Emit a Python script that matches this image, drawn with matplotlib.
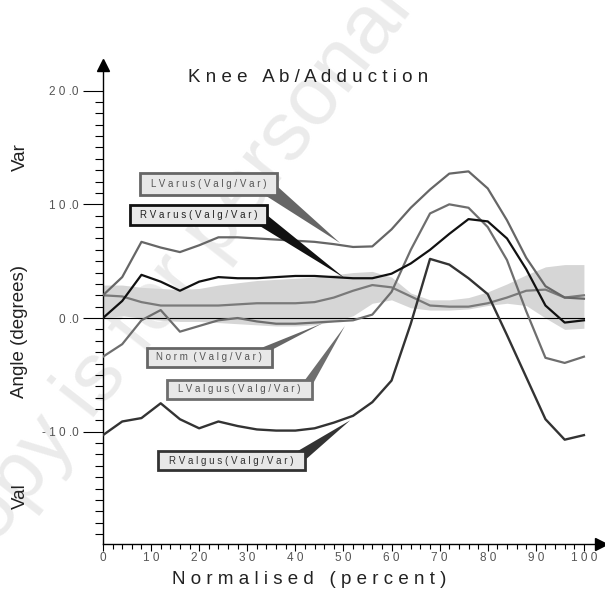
import numpy as np
import matplotlib.pyplot as plt
from matplotlib.patches import Rectangle, Polygon

plt.rcParams['font.family'] = ['Liberation Sans', 'DejaVu Sans']

# gait cycle, percent
pct = np.arange(0, 101, 4)

l_varus = [2.0, 3.6, 6.7, 6.2, 5.8, 6.4, 7.1, 7.1, 7.0, 6.9, 6.8, 6.7, 6.5,
           6.25, 6.3, 7.8, 9.7, 11.3, 12.7, 12.9, 11.4, 8.6, 5.3, 2.8, 1.8, 1.7]
r_varus = [0.0, 1.5, 3.8, 3.2, 2.4, 3.2, 3.6, 3.5, 3.5, 3.6, 3.7, 3.7, 3.6,
           3.5, 3.5, 3.9, 4.8, 6.0, 7.4, 8.7, 8.5, 7.0, 4.3, 1.1, -0.4, -0.2]
l_valgus = [-3.4, -2.3, -0.2, 0.7, -1.2, -0.7, -0.2, 0.0, -0.3, -0.5, -0.5, -0.4, -0.3,
            -0.2, 0.3, 2.3, 6.0, 9.2, 10.0, 9.7, 8.0, 5.1, 0.6, -3.5, -3.95, -3.4]
r_valgus = [-10.3, -9.1, -8.8, -7.5, -8.9, -9.7, -9.1, -9.5, -9.8, -9.9, -9.9, -9.7, -9.2,
            -8.6, -7.4, -5.5, -0.5, 5.2, 4.7, 3.5, 2.1, -1.5, -5.2, -8.9, -10.7, -10.3]
norm_mean = [2.0, 1.9, 1.4, 1.1, 1.1, 1.1, 1.1, 1.2, 1.3, 1.3, 1.3, 1.4, 1.8,
             2.4, 2.9, 2.7, 1.9, 1.1, 1.0, 1.0, 1.3, 1.8, 2.4, 2.5, 1.8, 2.0]
norm_hi = [2.9, 2.9, 2.7, 2.6, 2.5, 2.6, 2.9, 3.1, 3.3, 3.4, 3.5, 3.6, 3.8,
           4.0, 4.1, 3.6, 2.2, 1.6, 1.6, 1.8, 2.3, 3.0, 3.8, 4.5, 4.7, 4.7]
norm_lo = [0.0, 0.2, 0.0, -0.2, -0.3, -0.3, -0.4, -0.5, -0.6, -0.7, -0.7, -0.6, -0.3,
           0.2, 1.3, 1.6, 0.9, 0.7, 0.7, 0.8, 1.1, 1.3, 1.1, 0.0, -1.0, -0.9]

y_ticks = [-10, 0, 10, 20]
y_ticklabels = ['- 1 0 .0', '0 .0', '1 0 .0', '2 0 .0']
x_ticks = np.arange(0, 101, 10)
x_ticklabels = ['0', '1 0', '2 0', '3 0', '4 0', '5 0', '6 0', '7 0', '8 0', '9 0', '1 0 0']

fig = plt.figure(figsize=(6.05, 6.12), dpi=100)
ax = fig.add_axes([0.1702, 0.1116, 0.8228, 0.783])
ax.set_facecolor('none')

# faint watermark
fig.text(-0.07, 0.03, 'Copy is for personal use', rotation=52, rotation_mode='anchor',
         fontsize=60, color='#ebebeb', ha='left', va='baseline', zorder=-5)

ax.fill_between(pct, norm_lo, norm_hi, color='#d6d6d6', lw=0, zorder=1)
ax.plot(pct, norm_mean, color='#7a7a7a', lw=1.6, zorder=2)
ax.axhline(0, xmin=0, xmax=100 / 103.5, color='black', lw=0.8, zorder=2)
ax.plot(pct, l_valgus, color='#6e6e6e', lw=1.6, zorder=3)
ax.plot(pct, l_varus, color='#666666', lw=1.6, zorder=3)
ax.plot(pct, r_valgus, color='#333333', lw=1.7, zorder=3)
ax.plot(pct, r_varus, color='#111111', lw=1.6, zorder=4)

# callout labels: text, box (x0, y0, x1, y1), wedge base points, tip, colour
callouts = [
    ('L V a r u s ( V a l g / V a r )', (7.7, 10.8, 36.2, 12.75),
     [(36.2, 11.6), (33.7, 10.8)], (49.3, 6.6), '#666666', '#555555'),
    ('R V a r u s ( V a l g / V a r )', (5.6, 8.2, 34.1, 9.9),
     [(34.1, 9.06), (32.2, 8.2)], (50.3, 3.5), '#111111', '#222222'),
    ('N o r m  ( V a l g / V a r )', (9.1, -4.3, 35.1, -2.6),
     [(35.1, -2.8), (33.1, -2.6)], (45.7, -0.45), '#666666', '#555555'),
    ('L V a l g u s ( V a l g / V a r )', (13.3, -7.1, 43.5, -5.45),
     [(43.5, -5.9), (42.0, -5.45)], (50.3, -0.7), '#6e6e6e', '#555555'),
    ('R V a l g u s ( V a l g / V a r )', (11.4, -13.4, 42.0, -11.7),
     [(40.5, -11.7), (42.0, -12.5)], (51.4, -9.0), '#333333', '#333333'),
]
for text, (x0, y0, x1, y1), base, tip, col, tcol in callouts:
    ax.add_patch(Polygon([base[0], base[1], tip], closed=True, color=col, lw=0, zorder=5))
    ax.add_patch(Rectangle((x0, y0), x1 - x0, y1 - y0, facecolor='#e8e8e8',
                           edgecolor=col, lw=2, zorder=6))
    ax.text((x0 + x1) / 2, (y0 + y1) / 2, text, ha='center', va='center',
            fontsize=7, color=tcol, zorder=7)

ax.set_xlim(0, 103.5)
ax.set_ylim(-19.85, 22.3)
for s in ['top', 'right']:
    ax.spines[s].set_visible(False)
ax.spines['left'].set_bounds(-19.85, 22.0)
ax.spines['bottom'].set_linewidth(1)
ax.spines['left'].set_linewidth(1)
ax.plot(1, 0, '>', color='black', ms=8, transform=ax.transAxes, clip_on=False)
ax.plot(0, 1, '^', color='black', ms=8, transform=ax.transAxes, clip_on=False)

ax.set_yticks(y_ticks)
ax.set_yticklabels(y_ticklabels, fontsize=8.5, color='#555555')
ax.set_yticks(np.arange(-19, 21, 1), minor=True)
ax.tick_params(axis='y', which='major', length=14.4, width=0.8, pad=3)
ax.tick_params(axis='y', which='minor', length=5.8, width=0.8)
ax.set_xticks(x_ticks)
ax.set_xticklabels(x_ticklabels, fontsize=8.5, color='#555555')
ax.set_xticks(np.arange(0, 101, 2), minor=True)
ax.tick_params(axis='x', which='major', length=5, width=0.8, pad=1)
ax.tick_params(axis='x', which='minor', length=3.5, width=0.8)

fig.text(308 / 605, 1 - 78 / 612, 'K n e e   A b / A d d u c t i o n', ha='center', va='center',
         fontsize=13.5, color='#222222')
fig.text(309 / 605, 1 - 580 / 612, 'N o r m a l i s e d   ( p e r c e n t )', ha='center',
         va='center', fontsize=13.5, color='#222222')
fig.text(20 / 605, 1 - 331 / 612, 'Angle (degrees)', rotation=90, ha='center', va='center',
         fontsize=13.5, color='#222222')
fig.text(20 / 605, 1 - 157 / 612, 'Var', rotation=90, ha='center', va='center',
         fontsize=13.5, color='#222222')
fig.text(20 / 605, 1 - 496 / 612, 'Val', rotation=90, ha='center', va='center',
         fontsize=13.5, color='#222222')

fig.savefig('out.png', dpi=100)
